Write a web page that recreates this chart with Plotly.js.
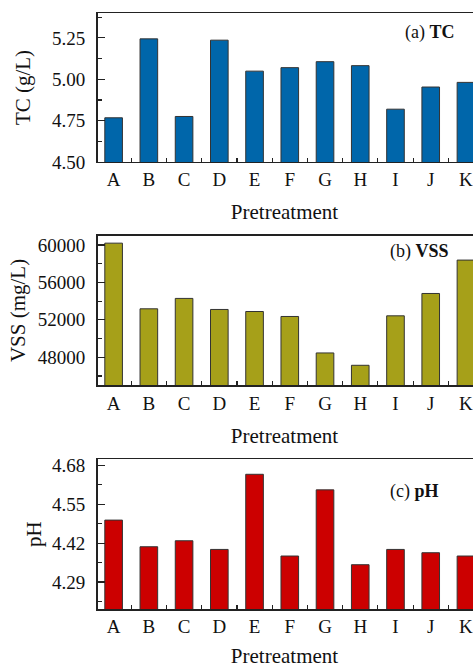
<!DOCTYPE html>
<html>
<head>
<meta charset="utf-8">
<script src="https://cdn.plot.ly/plotly-3.0.1.min.js"></script>
<style>html,body{margin:0;padding:0;background:#fff;}#chart{width:473px;height:668px;}</style>
</head>
<body>
<div id="chart"></div>
<script>
const categories = ['A','B','C','D','E','F','G','H','I','J','K'];
const tcValues = [4.767, 5.244, 4.775, 5.236, 5.049, 5.070, 5.106, 5.082, 4.819, 4.953, 4.981];
const vssValues = [60200, 53180, 54290, 53110, 52890, 52360, 48460, 47140, 52430, 54820, 58390];
const phValues = [4.497, 4.408, 4.428, 4.399, 4.650, 4.377, 4.598, 4.348, 4.399, 4.388, 4.377];

const FONT = 'Liberation Serif, Times New Roman, serif';
const lineCol = '#222';

function bar(y, color, xa, ya) {
  return {type: 'bar', x: categories, y: y, xaxis: xa, yaxis: ya, width: 0.5,
    marker: {color: color, line: {color: '#333', width: 1}}, hoverinfo: 'x+y'};
}

function xAxis(anchor) {
  return {type: 'category', range: [-0.5, 10.2], domain: [0, 1], anchor: anchor,
    showline: true, mirror: true, linecolor: lineCol, linewidth: 1.5,
    ticks: 'inside', tickson: 'boundaries', ticklen: 4, tickwidth: 1.2, tickcolor: lineCol,
    tickfont: {family: FONT, size: 19, color: '#111'}, showgrid: false, zeroline: false,
    title: {text: 'Pretreatment', font: {family: FONT, size: 21, color: '#111'}, standoff: 15}};
}

function yAxis(domain, range, tick0, dtick, fmt, title, standoff) {
  return {domain: domain, range: range, tick0: tick0, dtick: dtick, tickformat: fmt,
    anchor: 'free', position: 0,
    showline: true, linecolor: lineCol, linewidth: 1.5, showgrid: false, zeroline: false,
    ticks: 'inside', ticklen: 7, tickwidth: 1.2, tickcolor: lineCol, ticklabelstandoff: 7,
    minor: {ticks: 'inside', ticklen: 4, tickwidth: 1.2, tickcolor: lineCol, dtick: dtick / 2, tick0: tick0, showgrid: false},
    tickfont: {family: FONT, size: 19, color: '#111'},
    title: {text: title, font: {family: FONT, size: 21, color: '#111'}, standoff: standoff}};
}

const data = [
  bar(tcValues, '#0066aa', 'x', 'y'),
  bar(vssValues, '#a6a019', 'x2', 'y2'),
  bar(phValues, '#cc0000', 'x3', 'y3')
];

function label(text, x, y) {
  return {text: text, xref: 'paper', yref: 'paper', x: x, y: y, xanchor: 'center', yanchor: 'middle',
    showarrow: false, font: {family: FONT, size: 18, color: '#111'}};
}

const layout = {
  width: 473, height: 668,
  margin: {l: 96, r: 0, t: 0, b: 0},
  paper_bgcolor: '#fff', plot_bgcolor: '#fff',
  showlegend: false, bargap: 0.5,
  xaxis: xAxis('y'),
  xaxis2: xAxis('y2'),
  xaxis3: xAxis('y3'),
  yaxis: yAxis([0.7575, 0.9805], [4.5, 5.4], 4.5, 0.25, '.2f', 'TC (g/L)', 14),
  yaxis2: yAxis([0.4232, 0.6472], [45000, 61000], 48000, 4000, 'd', 'VSS (mg/L)', 5),
  yaxis3: yAxis([0.0883, 0.3124], [4.2, 4.7], 4.29, 0.13, '.2f', 'pH', 3),
  annotations: [
    label('(a) <b>TC</b>', 0.886, 0.9506),
    label('(b) <b>VSS</b>', 0.859, 0.6228),
    label('(c) <b>pH</b>', 0.846, 0.264)
  ]
};

Plotly.newPlot('chart', data, layout, {displayModeBar: false, staticPlot: true});
</script>
</body>
</html>
